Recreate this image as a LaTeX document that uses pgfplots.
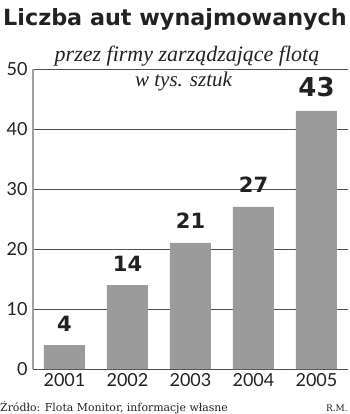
\documentclass[border=0pt]{standalone}
\usepackage{pgfplots}
\pgfplotsset{compat=1.18}
\usepackage{fontspec}
\setmainfont{Lato}
\newfontfamily\serifit{Liberation Serif}
\newfontfamily\footfont{DejaVu Serif}
\newfontfamily\heavy{DejaVu Sans}
\definecolor{barg}{HTML}{9B9B9B}
\definecolor{gridc}{HTML}{505050}
\definecolor{axc}{HTML}{A0A0A0}
\definecolor{txt}{HTML}{222222}
\begin{document}
\begin{tikzpicture}
\useasboundingbox (-33bp,-45bp) rectangle (317bp,369bp);
\begin{axis}[
  scale only axis, width=315bp, height=300bp,
  anchor=south west, at={(0bp,0bp)},
  xmin=-0.5, xmax=4.5, ymin=0, ymax=50,
  xtick={0,1,2,3,4}, xticklabels={2001,2002,2003,2004,2005},
  ytick={0,10,20,30,40,50},
  axis lines=left, axis line style={-},
  x axis line style={draw=gridc, line width=0.9bp},
  y axis line style={draw=axc, line width=1.4bp},
  ymajorgrids, grid style={draw=gridc, line width=0.9bp},
  major tick length=0pt,
  tick label style={font=\fontsize{18bp}{20bp}\selectfont, text=txt},
  yticklabel style={xshift=-2bp},
  xticklabel style={yshift=-1bp},
  /pgf/number format/assume math mode=true,
  clip=false,
]
\addplot[ybar, bar width=41bp, fill=barg, draw=none] coordinates {(0,4) (1,14) (2,21) (3,27) (4,43)};
\foreach \x/\v in {0/4,1/14,2/21,3/27}{
  \edef\tmp{\noexpand\node[anchor=base, text=txt, font=\noexpand\fontsize{21bp}{23bp}\noexpand\selectfont\noexpand\heavy\noexpand\bfseries] at (axis cs:\x,\v) [yshift=14bp] {\v};}
  \tmp
}
\node[anchor=base, text=txt, font=\fontsize{26bp}{28bp}\selectfont\heavy\bfseries] at (axis cs:4,43) [yshift=14bp] {43};
\end{axis}
\node[anchor=base west, text=txt, font=\fontsize{22.3bp}{24bp}\selectfont\heavy\bfseries, inner sep=0] at (-30bp,343bp) {Liczba aut wynajmowanych};
\node[anchor=base, text=txt, font=\fontsize{22bp}{24bp}\selectfont\serifit\itshape, inner sep=0] at (154bp,307bp) {przez firmy zarządzające flotą};
\node[anchor=base, text=txt, font=\fontsize{21bp}{23bp}\selectfont\serifit\itshape, inner sep=0] at (150.5bp,282bp) {w tys. sztuk};
\node[anchor=base west, text=txt, font=\fontsize{10.9bp}{12bp}\selectfont\footfont, inner sep=0] at (-33bp,-42bp) {Źródło: Flota Monitor, informacje własne};
\node[anchor=base east, text=txt, font=\fontsize{9bp}{11bp}\selectfont\footfont, inner sep=0] at (315bp,-42bp) {R.M.};
\end{tikzpicture}
\end{document}
